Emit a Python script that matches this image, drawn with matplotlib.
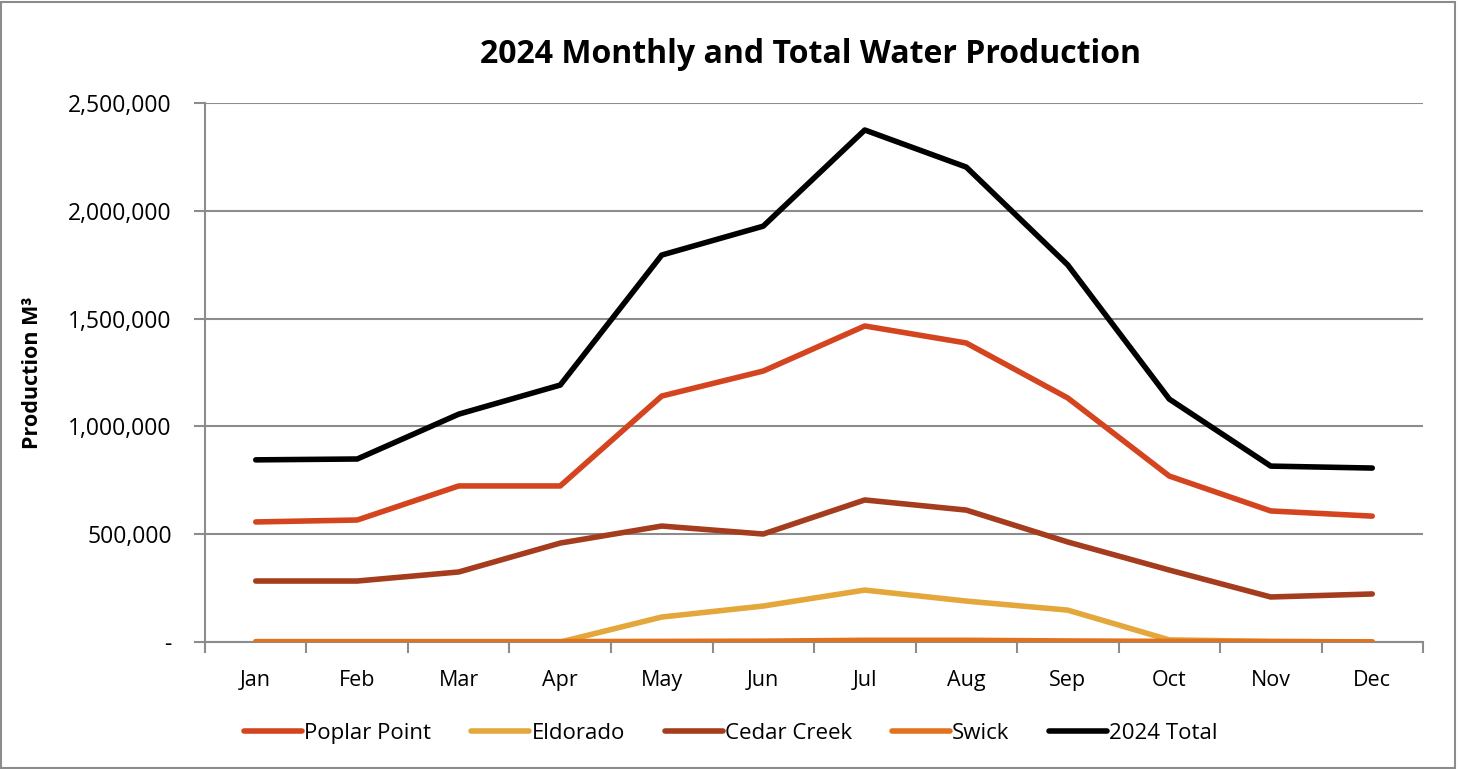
import matplotlib.pyplot as plt
from matplotlib.ticker import FuncFormatter, FixedLocator
from matplotlib.patches import Rectangle

months = ['Jan', 'Feb', 'Mar', 'Apr', 'May', 'Jun', 'Jul', 'Aug', 'Sep', 'Oct', 'Nov', 'Dec']
poplar_point = [557000, 566000, 724000, 724000, 1141000, 1257000, 1466000, 1387000, 1132000, 770000, 608000, 584000]
eldorado = [0, 0, 0, 0, 116000, 167000, 241000, 190000, 148000, 10000, 3000, 0]
cedar_creek = [283000, 283000, 325000, 459000, 538000, 501000, 659000, 612000, 464000, 334000, 209000, 223000]
swick = [2000, 2000, 2000, 2000, 3000, 4000, 8000, 8000, 5000, 3000, 2000, 1000]
total_2024 = [845000, 849000, 1057000, 1192000, 1795000, 1929000, 2375000, 2203000, 1749000, 1127000, 816000, 807000]

plt.rcParams['font.family'] = ['Open Sans', 'DejaVu Sans']

fig = plt.figure(figsize=(14.58, 7.69), dpi=100)
ax = fig.add_axes([0.1406, 0.1651, 0.8354, 0.7009])

x = list(range(len(months)))
lw = 4.0
ax.plot(x, poplar_point, color='#D4441E', lw=lw, solid_capstyle='round', label='Poplar Point', zorder=3)
ax.plot(x, eldorado, color='#E4A73B', lw=lw, solid_capstyle='round', label='Eldorado', zorder=3)
ax.plot(x, cedar_creek, color='#A43C1D', lw=lw, solid_capstyle='round', label='Cedar Creek', zorder=3)
ax.plot(x, swick, color='#E3721E', lw=lw, solid_capstyle='round', label='Swick', zorder=3)
ax.plot(x, total_2024, color='black', lw=lw, solid_capstyle='round', label='2024 Total', zorder=3)

ax.set_xlim(-0.5, 11.5)
ax.set_ylim(0, 2500000)
ax.set_yticks(range(0, 2500001, 500000))
ax.yaxis.set_major_formatter(FuncFormatter(lambda v, p: '-' if v == 0 else f'{int(v):,}'))
ax.xaxis.set_major_locator(FixedLocator([i - 0.5 for i in range(13)]))
ax.xaxis.set_minor_locator(FixedLocator(x))
ax.set_xticklabels([])
ax.set_xticklabels(months, minor=True)
ax.tick_params(axis='x', which='minor', length=0, labelsize=15.5, pad=20)
ax.tick_params(axis='x', which='major', length=8, color='#8C8C8C', width=1.5)
ax.tick_params(axis='y', length=8, color='#8C8C8C', width=1.5, labelsize=16.5, pad=16)

ax.grid(axis='y', color='#8C8C8C', lw=1.5, zorder=0)
for s in ['top', 'right']:
    ax.spines[s].set_visible(False)
for s in ['left', 'bottom']:
    ax.spines[s].set_color('#8C8C8C')
    ax.spines[s].set_linewidth(1.5)

ax.set_ylabel('Production M³', fontsize=15.5, fontweight='bold', labelpad=18)
fig.suptitle('2024 Monthly and Total Water Production', x=0.556, y=0.95, fontsize=23, fontweight='bold')

ax.legend(loc='center', bbox_to_anchor=(0.432, -0.17), ncol=5, frameon=False, fontsize=16,
          handlelength=2.6, handletextpad=0.1, columnspacing=1.8)

fig.patches.append(Rectangle((0.001, 0.001), 0.997, 0.997, transform=fig.transFigure,
                             fill=False, edgecolor='#8C8C8C', lw=1.5))

fig.savefig('out.png', dpi=100)
